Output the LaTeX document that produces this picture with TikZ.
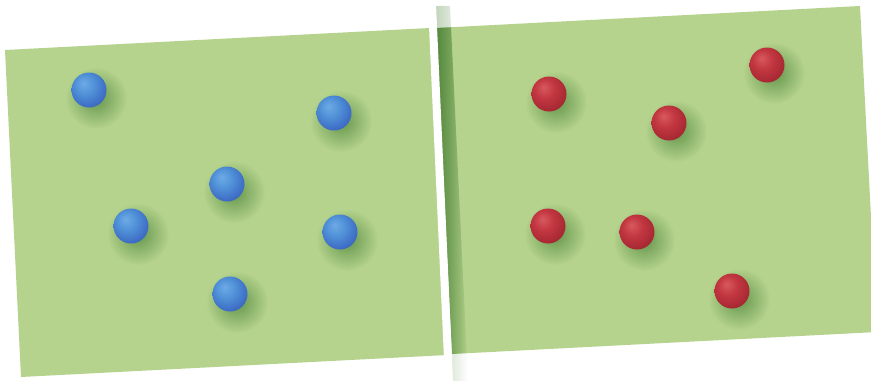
\documentclass[tikz,border=0pt]{standalone}
\usetikzlibrary{fadings}
\definecolor{field}{RGB}{181,211,141}
\definecolor{shadowg}{RGB}{75,130,55}
\definecolor{bA}{RGB}{110,170,230}
\definecolor{bB}{RGB}{80,145,215}
\definecolor{bC}{RGB}{60,105,195}
\definecolor{bD}{RGB}{45,70,160}
\definecolor{rA}{RGB}{215,90,95}
\definecolor{rB}{RGB}{195,55,65}
\definecolor{rC}{RGB}{165,40,50}
\definecolor{rD}{RGB}{120,25,35}
\pgfdeclareradialshading{blueball}{\pgfpoint{-8bp}{10bp}}{color(0bp)=(bA); color(14bp)=(bB); color(30bp)=(bC); color(44bp)=(bD); color(60bp)=(bD)}
\pgfdeclareradialshading{redball}{\pgfpoint{-8bp}{10bp}}{color(0bp)=(rA); color(14bp)=(rB); color(30bp)=(rC); color(44bp)=(rD); color(60bp)=(rD)}
\tikzfading[name=softshadow, inner color=transparent!5, outer color=transparent!100]
\tikzset{
  ballshadow/.style={fill=shadowg, path fading=softshadow, fill opacity=0.8},
  blueb/.style={shading=blueball},
  redb/.style={shading=redball},
}
\begin{document}
\begin{tikzpicture}[x=1pt,y=-1pt]
\useasboundingbox (0,0) rectangle (871,381);
\clip (0,0) rectangle (871,381);
% fields
\fill[field] (5,50) -- (430,28) -- (447,355) -- (21,377) -- cycle;
\fill[field] (436,28) -- (860,6) -- (877,332) -- (452,354) -- cycle;
% wall shadow
\begin{scope}
\clip (436,28) -- (860,6) -- (877,332) -- (452,354) -- cycle;
\fill[shadowg, path fading=east, fill opacity=0.9] (435,6) -- (450,6) -- (468,381) -- (452,381) -- cycle;
\end{scope}
\fill[shadowg, path fading=east, fill opacity=0.35] (435,6) -- (450,6) -- (468,381) -- (452,381) -- cycle;
% wall
\fill[white] (428,4) -- (436,4) -- (453,381) -- (445,381) -- cycle;
% shadows of balls
\foreach \x/\y in {89/90,334/113,227/184,131/226,340/232,230/294,549/94,767/65,669/123,548/226,637/232,732/291}
  \fill[ballshadow] (\x+7,\y+8) circle (31);
% blue balls
\foreach \n/\x/\y in {b1/89/90,b2/334/113,b3/227/184,b4/131/226,b5/340/232,b6/230/294}
  \shade[blueb] (\x,\y) circle (17.5);
% red balls
\foreach \n/\x/\y in {r1/549/94,r2/767/65,r3/669/123,r4/548/226,r5/637/232,r6/732/291}
  \shade[redb] (\x,\y) circle (17.5);
\end{tikzpicture}
\end{document}
